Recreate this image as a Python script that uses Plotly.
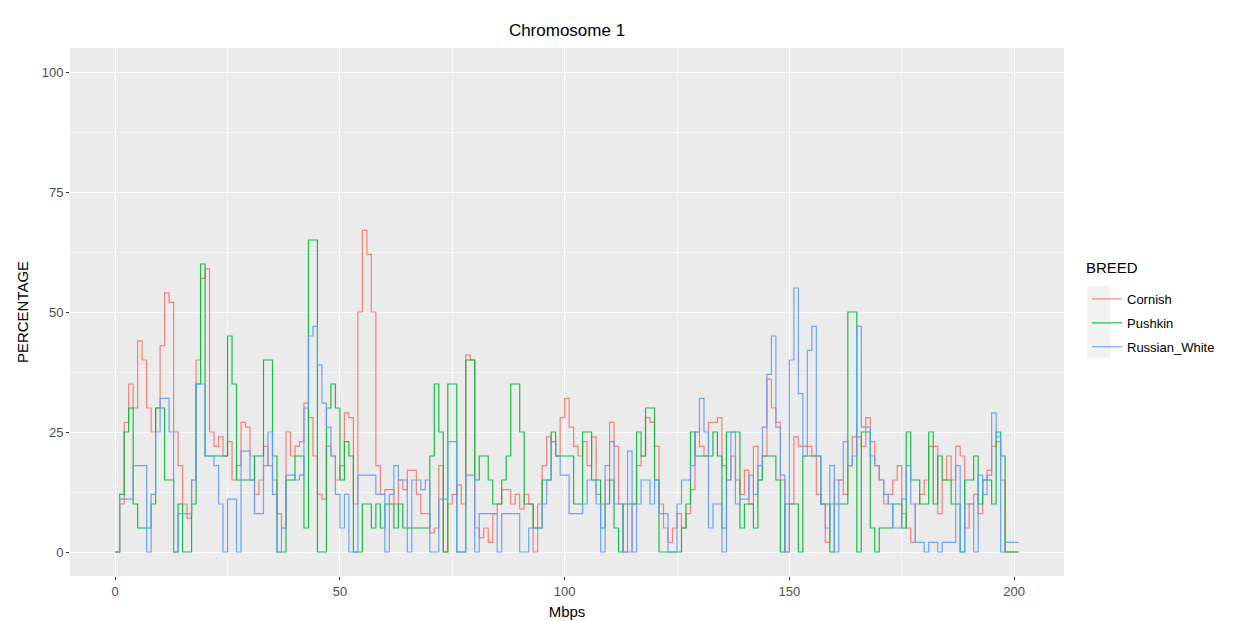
import plotly.graph_objects as go

# Positions (Mbps) at which each step begins
mbps = list(range(0, 202))

cornish = [0, 10, 27, 35, 30, 44, 40, 30, 25, 30, 43, 54, 52, 25, 18, 10, 7, 15, 40, 57,
           59, 25, 22, 24, 20, 23, 15, 18, 27, 26, 20, 12, 15, 22, 18,
           15, 8, 5, 25, 20, 22, 23, 31, 28, 20, 12, 11, 22, 20, 15, 18, 29, 28, 10, 50,
           67, 62, 50, 18, 12, 13, 13, 10, 15, 13, 17, 17, 12, 8,
           8, 4, 5, 18, 0, 10, 12, 14, 10, 41, 40, 5, 3, 5, 2, 8, 10, 13, 13, 10,
           12, 9, 12, 10, 0, 10, 18, 24, 23, 20, 28, 32, 26, 22, 20,
           23, 18, 24, 12, 10, 15, 27, 22, 10, 0, 0, 10, 18, 20, 28, 27, 22, 10, 5,
           2, 5, 8, 5, 8, 13, 25, 22, 20, 27, 27, 28, 18, 15, 20,
           15, 12, 17, 10, 22, 15, 20, 36, 30, 27, 15, 0, 10, 24, 22, 22, 22, 20, 12,
           10, 2, 10, 15, 15, 12, 18, 24, 24, 22, 28, 23, 18, 15, 10, 12,
           15, 18, 8, 5, 2, 10, 12, 15, 22, 22, 8, 15, 20, 15, 22, 20, 5, 10, 12, 8,
           15, 17, 22, 23, 15, 0, 0, 0, 0]

pushkin = [0, 12, 25, 30, 10, 5, 5, 5, 10, 30, 30, 15, 15, 0, 10, 0, 0, 10, 35, 60,
           20, 20, 20, 20, 20, 45, 35, 15, 15, 15, 15, 20, 20, 40, 40,
           20, 0, 0, 15, 15, 20, 20, 5, 65, 65, 0, 0, 30, 35, 30, 15, 23, 20, 0, 0,
           10, 10, 5, 10, 5, 10, 10, 5, 10, 5, 5, 5, 5, 5,
           5, 20, 35, 25, 0, 35, 35, 0, 0, 40, 40, 15, 20, 20, 15, 10, 10, 15, 20, 35,
           35, 25, 10, 10, 5, 5, 15, 15, 25, 20, 20, 20, 20, 10, 10,
           25, 25, 15, 15, 5, 10, 15, 5, 0, 10, 10, 10, 25, 20, 30, 30, 15, 0, 0,
           0, 0, 0, 5, 10, 25, 20, 20, 20, 20, 25, 20, 5, 25, 25,
           25, 5, 10, 10, 5, 15, 20, 20, 20, 15, 0, 10, 10, 10, 0, 20, 20, 20, 20,
           10, 10, 0, 10, 10, 10, 50, 50, 0, 25, 25, 5, 0, 5, 5, 5,
           10, 10, 5, 25, 15, 15, 10, 10, 25, 10, 20, 15, 15, 10, 10, 0, 15, 15, 20, 10,
           15, 15, 10, 25, 20, 0, 0, 0, 0]

russian_white = [0, 11, 11, 11, 18, 18, 18, 0, 12, 25, 32, 32, 25, 0, 8, 8, 8, 15, 35, 35,
                 20, 20, 18, 10, 0, 11, 11, 0, 21, 21, 15, 8, 8, 18, 25,
                 12, 0, 5, 16, 16, 15, 16, 30, 45, 47, 39, 31, 26, 20, 12, 5, 12, 0, 0, 16,
                 16, 16, 16, 12, 12, 0, 12, 18, 15, 15, 0, 15, 15, 13,
                 15, 0, 0, 11, 11, 23, 23, 0, 0, 16, 16, 0, 8, 8, 8, 8, 0, 8, 8, 8,
                 8, 0, 0, 5, 5, 5, 10, 15, 23, 20, 16, 16, 8, 8, 8,
                 10, 15, 15, 10, 0, 18, 23, 10, 10, 0, 21, 0, 10, 15, 15, 10, 15, 8, 8,
                 0, 0, 10, 15, 15, 18, 25, 32, 25, 5, 10, 10, 0, 15, 25,
                 10, 11, 11, 16, 12, 18, 26, 37, 45, 26, 16, 0, 40, 55, 33, 20, 42, 47, 20,
                 10, 5, 18, 0, 15, 23, 18, 20, 47, 26, 26, 20, 18, 15, 12, 10,
                 5, 5, 11, 18, 10, 2, 2, 0, 2, 2, 0, 2, 2, 2, 18, 0, 10, 10, 0, 16,
                 12, 16, 29, 24, 0, 2, 2, 2, 2]

series = [("Cornish", cornish, "#F8766D"),
          ("Pushkin", pushkin, "#00BA38"),
          ("Russian_White", russian_white, "#619CFF")]

x_ticks = [0, 50, 100, 150, 200]
y_ticks = [0, 25, 50, 75, 100]

FONT = "Liberation Sans, Arial, sans-serif"

fig = go.Figure()
for name, vals, col in series:
    n = min(len(vals), len(mbps))
    fig.add_trace(go.Scatter(
        x=mbps[:n], y=vals[:n], name=name, mode="lines", legendgroup=name,
        line=dict(color=col, width=1.2, shape="hv"), opacity=0.9,
    ))

# the page body adds an 8px offset; positions below are in figure pixels
L, R, T, B = 62, 183, 40, 53
W, H = 1239, 621
pw, ph = W - L - R, H - T - B

def px_x(p):
    return (p - L) / pw

def px_y(p):
    return (H - B - p) / ph

# ggplot-like legend key background
fig.add_shape(type="rect", xref="paper", yref="paper",
              x0=px_x(1079), x1=px_x(1102), y0=px_y(350), y1=px_y(278),
              fillcolor="#F2F2F2", line=dict(width=0), layer="below")

fig.add_annotation(text="BREED", xref="paper", yref="paper",
                   x=px_x(1076), y=px_y(259), xanchor="left", yanchor="middle",
                   showarrow=False, font=dict(family=FONT, size=15, color="black"))

fig.update_layout(
    width=W, height=H,
    margin=dict(l=L, r=R, t=T, b=B, autoexpand=False),
    paper_bgcolor="white", plot_bgcolor="#EBEBEB",
    font=dict(family=FONT, color="#4D4D4D", size=12),
    title=dict(text="Chromosome 1", x=(L + pw / 2) / W, xanchor="center",
               y=1 - 22 / H, yanchor="middle",
               font=dict(family=FONT, size=17, color="black")),
    showlegend=True,
    legend=dict(x=px_x(1079), xanchor="left", y=px_y(276), yanchor="top",
                font=dict(size=13, color="black"), bgcolor="rgba(0,0,0,0)",
                tracegroupgap=4, itemwidth=30),
    xaxis=dict(range=[-10.05, 211.1], tickvals=x_ticks, ticktext=[str(v) for v in x_ticks],
               automargin=False,
               showgrid=True, gridcolor="white", gridwidth=1.2, zeroline=False,
               ticks="outside", ticklen=3, tickcolor="#333333", tickwidth=1,
               tickfont=dict(size=13, color="#4D4D4D"),
               minor=dict(tickvals=[25, 75, 125, 175], showgrid=True,
                          gridcolor="#F7F7F7", gridwidth=0.6, ticks=""),
               title=dict(text="Mbps", font=dict(size=15, color="black"), standoff=8),
               showline=False),
    yaxis=dict(range=[-5, 105], tickvals=y_ticks, ticktext=[str(v) for v in y_ticks],
               automargin=False,
               showgrid=True, gridcolor="white", gridwidth=1.2, zeroline=False,
               ticks="outside", ticklen=3, tickcolor="#333333", tickwidth=1,
               tickfont=dict(size=13, color="#4D4D4D"),
               minor=dict(tickvals=[12.5, 37.5, 62.5, 87.5], showgrid=True,
                          gridcolor="#F7F7F7", gridwidth=0.6, ticks=""),
               title=dict(text="PERCENTAGE", font=dict(size=15, color="black"), standoff=9),
               showline=False),
)

fig.write_html("out.html")
